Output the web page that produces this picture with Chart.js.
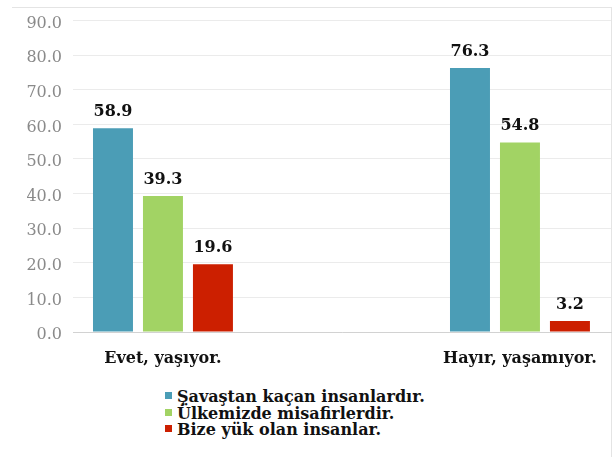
<!DOCTYPE html>
<html>
<head>
<meta charset="utf-8">
<script src="https://cdn.jsdelivr.net/npm/chart.js@4"></script>
<style>
    body { margin: 0; background: #fff; }
    #wrap { position: relative; width: 615px; height: 457px; overflow: hidden; }
    #frame { position: absolute; left: 12px; top: 7px; width: 599px; height: 460px;
             border-top: 1px solid #e4e4e4; border-right: 1px solid #e4e4e4; }
    #chart { position: absolute; left: 0; top: 0; }
    #legend { position: absolute; left: 165px; top: 389px; margin: 0; padding: 0; list-style: none;
              font: bold 16px "DejaVu Serif", serif; color: #111; }
    #legend li { display: flex; align-items: flex-start; height: 16.5px; line-height: 16px; white-space: nowrap; }
    #legend span.box { width: 7px; height: 7px; margin: 3px 5px 0 0; flex: none; }
</style>
</head>
<body>
<div id="wrap">
    <div id="frame"></div>
    <canvas id="chart" width="615" height="380"></canvas>
    <ul id="legend"></ul>
</div>
<script>
// categories and series
const categories = ["Evet, yaşıyor.", "Hayır, yaşamıyor."];
const seriesNames = ["Şavaştan kaçan insanlardır.", "Ülkemizde misafirlerdir.", "Bize yük olan insanlar."];
const savastanKacan = [58.9, 76.3];
const misafir = [39.3, 54.8];
const yukOlan = [19.6, 3.2];
const seriesColors = ["#4b9db6", "#a2d364", "#cc1f00"];
const yTicks = [0, 10, 20, 30, 40, 50, 60, 70, 80, 90];

const serif = "'DejaVu Serif', serif";

function toPoints(values) {
    return values.map((v, i) => ({ x: i, y: v }));
}

// Draws the value above every bar
const valueLabels = {
    id: 'valueLabels',
    afterDatasetsDraw(chart) {
        const ctx = chart.ctx;
        ctx.save();
        ctx.font = "bold 16px " + serif;
        ctx.fillStyle = "#111";
        ctx.textAlign = "center";
        ctx.textBaseline = "alphabetic";
        chart.data.datasets.forEach((ds, di) => {
            chart.getDatasetMeta(di).data.forEach((bar, i) => {
                ctx.fillText(ds.data[i].y.toFixed(1), bar.x, bar.y - 12);
            });
        });
        ctx.restore();
    }
};

const chart = new Chart(document.getElementById('chart'), {
    type: 'bar',
    data: {
        datasets: [savastanKacan, misafir, yukOlan].map((vals, i) => ({
            label: seriesNames[i],
            data: toPoints(vals),
            backgroundColor: seriesColors[i],
            categoryPercentage: 0.42,
            barPercentage: 0.8
        }))
    },
    options: {
        responsive: false,
        animation: false,
        layout: { padding: { left: 0, right: 4, top: 18, bottom: 8 } },
        plugins: { legend: { display: false }, tooltip: { enabled: false } },
        scales: {
            x: {
                type: 'linear',
                offset: false,
                min: -0.252,
                max: 1.255,
                afterBuildTicks(scale) {
                    scale.ticks = categories.map((_, i) => ({ value: i }));
                },
                afterFit(scale) { scale.height = 40; },
                grid: { display: false },
                border: { display: true, color: '#d2d2d2' },
                ticks: {
                    padding: 9,
                    color: '#111',
                    font: { family: serif, size: 16, weight: 'bold' },
                    callback: v => categories[v]
                }
            },
            y: {
                min: 0,
                max: 90,
                afterBuildTicks(scale) {
                    scale.ticks = yTicks.map(v => ({ value: v }));
                },
                afterFit(scale) { scale.width = 73; },
                grid: { color: '#ebebeb', drawTicks: false },
                border: { display: false },
                ticks: {
                    padding: 11,
                    labelOffset: 3,
                    color: '#8a8a8a',
                    font: { family: serif, size: 16 },
                    callback: v => v.toFixed(1)
                }
            }
        }
    },
    plugins: [valueLabels]
});

// legend built from the chart's datasets
const legendEl = document.getElementById('legend');
chart.data.datasets.forEach(ds => {
    const li = document.createElement('li');
    const box = document.createElement('span');
    box.className = 'box';
    box.style.background = ds.backgroundColor;
    const txt = document.createElement('span');
    txt.textContent = ds.label;
    li.appendChild(box);
    li.appendChild(txt);
    legendEl.appendChild(li);
});
</script>
</body>
</html>
